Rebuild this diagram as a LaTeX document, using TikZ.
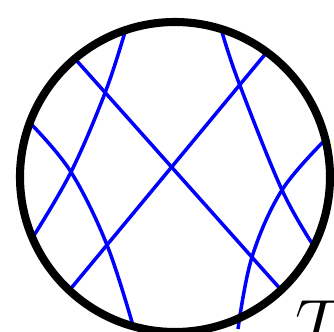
\documentclass[tikz,border=0pt]{standalone}
\usepackage{amsmath}
\usepackage{tikz}
\usetikzlibrary{positioning, calc}

\begin{document}
\begin{tikzpicture}[
  rim/.style={line width=2.3pt, draw=black},
  strand/.style={line width=1pt, draw=blue},
  lbl/.style={font=\huge, inner sep=0pt},
]
\useasboundingbox (0,0) rectangle (3.34,3.31);

% === disc ===
\coordinate (o) at (1.75, 1.54);

% Straight strands
\draw[strand] (0.77, 2.70) -- (2.83, 0.39);
\draw[strand] (2.67, 2.79) -- (0.68, 0.39);

% Left pair of curved strands
\draw[strand] plot[smooth, tension=0.6] coordinates
  {(1.25, 2.99) (1.05, 2.38) (0.71, 1.59) (0.33, 0.94)};
\draw[strand] plot[smooth, tension=0.6] coordinates
  {(0.32, 2.06) (0.71, 1.59) (1.07, 0.86) (1.34, 0.02)};

% Right pair of curved strands
\draw[strand] plot[smooth, tension=0.6] coordinates
  {(2.22, 2.99) (2.39, 2.48) (2.82, 1.41) (3.15, 0.83)};
\draw[strand] plot[smooth, tension=0.6] coordinates
  {(3.27, 1.93) (2.82, 1.41) (2.52, 0.74) (2.38, 0.02)};

% Boundary circle
\draw[rim] (o) circle (1.55);

% Label
\node[lbl, anchor=base west] (tlbl) at (2.95, -0.19) {$T$};

\end{tikzpicture}
\end{document}
